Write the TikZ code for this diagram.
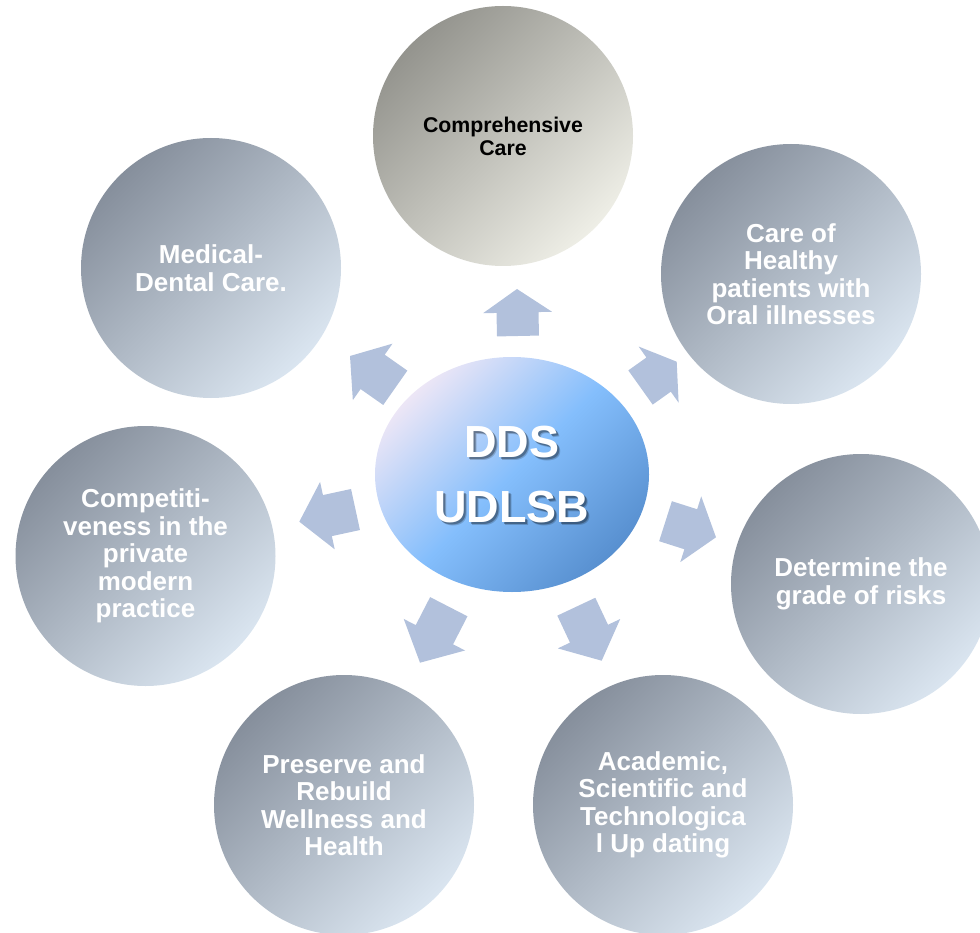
\documentclass[tikz,border=0pt]{standalone}
\usepackage{fontspec}
\setmainfont{Liberation Sans}
\usetikzlibrary{calc,shapes.geometric}
\definecolor{arrowc}{RGB}{178,193,220}
\definecolor{gdark}{RGB}{134,143,156}
\definecolor{glight}{RGB}{218,229,240}
\definecolor{tdark}{RGB}{148,148,142}
\definecolor{tlight}{RGB}{238,238,230}
\definecolor{cA}{RGB}{236,230,246}
\definecolor{cB}{RGB}{132,190,252}
\definecolor{cC}{RGB}{88,144,208}
\newcommand\blockarr[3]{%
  \coordinate (#1h) at ($(#2)!0.5!(#3)$);
  \fill[arrowfill] ($(#2)!21pt!90:(#3)$) -- ($(#1h)!21pt!90:(#3)$) -- ($(#1h)!34.5pt!90:(#3)$) -- (#3)
     -- ($(#1h)!34.5pt!-90:(#3)$) -- ($(#1h)!21pt!-90:(#3)$) -- ($(#2)!21pt!-90:(#3)$) -- cycle;}
\begin{document}
\begin{tikzpicture}[x=1pt,y=-1pt,
  bub/.style={circle, minimum size=260pt, inner sep=0pt, align=center, text=white,
    font=\bfseries\fontsize{26}{27.5}\selectfont,
    top color=gdark, bottom color=glight, shading angle=45},
  topbub/.style={bub, text=black, font=\bfseries\fontsize{21.3}{23}\selectfont,
    top color=tdark, bottom color=tlight, shading angle=45},
  hub/.style={ellipse, minimum width=274pt, minimum height=235pt, inner sep=0pt,
    top color=cA, bottom color=cC, middle color=cB, shading angle=45},
  hubtext/.style={align=center, font=\bfseries\fontsize{45}{65}\selectfont, inner sep=0pt},
  arrowfill/.style={fill=arrowc}]
\useasboundingbox (0,0) rectangle (980,933);
\clip (0,0) rectangle (980,933);

% outer circles
\node[topbub] (n1) at (503,136) {Comprehensive\\Care};
\node[bub] (n2) at (791,274) {Care of\\Healthy\\patients with\\Oral illnesses};
\node[bub] (n3) at (861,584) {Determine the\\grade of risks};
\node[bub] (n4) at (663,805) {Academic,\\Scientific and\\Technologica\\l Up dating};
\node[bub] (n5) at (344,805) {Preserve and\\Rebuild\\Wellness and\\Health};
\node[bub] (n6) at (145.5,556) {Competiti-\\veness in the\\private\\modern\\practice};
\node[bub] (n7) at (211,268) {Medical-\\Dental Care.};

% hub
\node[hub] (c) at (512,474.5) {};
\node[hubtext, text=black, opacity=0.18] at ($(c)+(3,3)$) {DDS\\UDLSB};
\node[hubtext, text=black, opacity=0.3] at ($(c)+(1.6,1.6)$) {DDS\\UDLSB};
\node[hubtext, text=white] (ct) at (c) {DDS\\UDLSB};

% arrow anchors
\coordinate (a1b) at (518,336);     \coordinate (a1t) at (517,289);
\coordinate (a2b) at (640.5,387.5); \coordinate (a2t) at (676.7,361.7);
\coordinate (a3b) at (665.5,521.2); \coordinate (a3t) at (716,537.3);
\coordinate (a4b) at (576.3,606.7); \coordinate (a4t) at (601.7,660.7);
\coordinate (a5b) at (448.8,606.7); \coordinate (a5t) at (420,662.7);
\coordinate (a6b) at (355.5,509.5); \coordinate (a6t) at (299.3,521.7);
\coordinate (a7b) at (395.3,387.8); \coordinate (a7t) at (350,356);

\blockarr{a1}{a1b}{a1t}
\blockarr{a2}{a2b}{a2t}
\blockarr{a3}{a3b}{a3t}
\blockarr{a4}{a4b}{a4t}
\blockarr{a5}{a5b}{a5t}
\blockarr{a6}{a6b}{a6t}
\blockarr{a7}{a7b}{a7t}
\end{tikzpicture}
\end{document}
